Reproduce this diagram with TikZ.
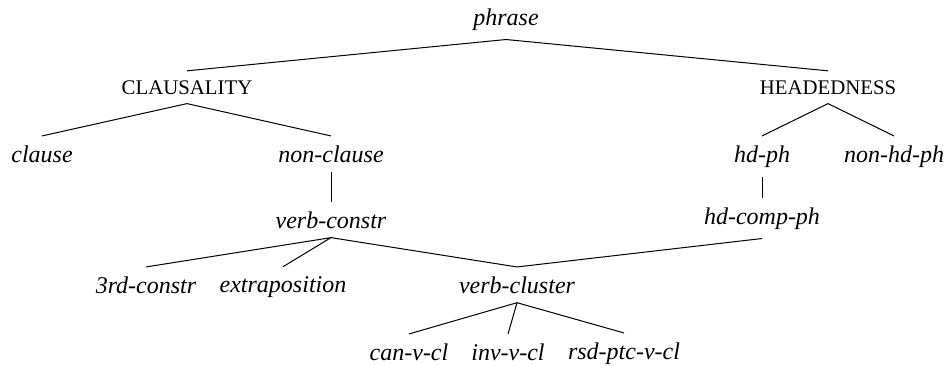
\documentclass[tikz,border=0pt]{standalone}
\usepackage{fontspec}
\setmainfont{Liberation Serif}
\begin{document}
\begin{tikzpicture}[x=0.5pt,y=-0.5pt,
  type/.style={anchor=base,inner sep=4.5pt,font=\fontsize{12}{14}\selectfont\itshape},
  dim/.style={anchor=base,inner sep=4.5pt,font=\fontsize{10.4}{12}\selectfont},
  edge/.style={line width=0.5pt}]
\useasboundingbox (0,0) rectangle (947,365);
% type names
\node[type] (phrase) at (506,25) {phrase};
\node[dim]  (claus)  at (187,94) {CLAUSALITY};
\node[dim]  (head)   at (828,94) {HEADEDNESS};
\node[type] (clause) at (42,162) {clause};
\node[type] (nclause) at (331,162) {non-clause};
\node[type] (hdph)   at (762,162) {hd-ph};
\node[type] (nhdph)  at (894,162) {non-hd-ph};
\node[type] (vconstr) at (331,228) {verb-constr};
\node[type] (hdcomp) at (762,224) {hd-comp-ph};
\node[type] (third)  at (146,293) {3rd-constr};
\node[type] (extra)  at (283,292) {extraposition};
\node[type] (vclus)  at (517,293) {verb-cluster};
\node[type] (canv)   at (409,360) {can-v-cl};
\node[type] (invv)   at (508,360) {inv-v-cl};
\node[type] (rsdv)   at (624,359) {rsd-ptc-v-cl};
% hierarchy lines
\draw[edge] (claus.north) -- (phrase.south) -- (head.north);
\draw[edge] (clause.north) -- (claus.south) -- (nclause.north);
\draw[edge] (hdph.north) -- (head.south) -- (nhdph.north);
\draw[edge] (nclause.south) -- (vconstr.north);
\draw[edge] (hdph.south) -- (hdcomp.north);
\draw[edge] (third.north) -- (vconstr.south) -- (extra.north);
\draw[edge] (vconstr.south) -- (vclus.north) -- (hdcomp.south);
\draw[edge] (canv.north) -- (vclus.south) -- (rsdv.north);
\draw[edge] (vclus.south) -- (invv.north);
\end{tikzpicture}
\end{document}
